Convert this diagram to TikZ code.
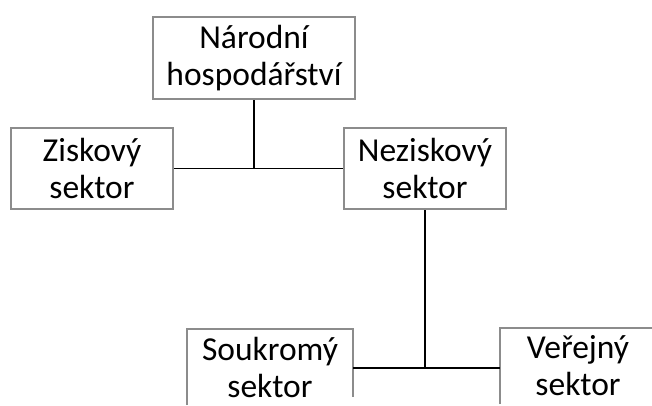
\documentclass[tikz,border=0pt]{standalone}
\usepackage{fontspec}
\setmainfont{Carlito}
\usetikzlibrary{positioning}
\tikzset{
  sektorbox/.style={draw=black!45, line width=2pt, fill=white, align=center,
    inner sep=0pt, minimum height=82pt,
    font=\fontsize{33.5}{37}\selectfont},
  otevreny/.style={sektorbox, draw=none, minimum height=74pt},
  okraj/.style={draw=black!45, line width=2pt},
  spoj/.style={black, line width=1.5pt}
}
\begin{document}
\begin{tikzpicture}[x=1pt,y=-1pt]
\useasboundingbox (0,0) rectangle (652,405);
\clip (0,0) rectangle (652,405);
%top level
\node[sektorbox, minimum width=202pt] (narodni) at (254,58) {Národní\\hospodářství};
\node[sektorbox, minimum width=162pt, minimum height=81pt] (ziskovy) at (92,168.5) {Ziskový\\sektor};
\node[sektorbox, minimum width=162pt, minimum height=81pt] (neziskovy) at (425,168.5) {Neziskový\\sektor};
\draw[spoj] (ziskovy.east) -- (neziskovy.west);
\draw[spoj] (narodni.south) -- (narodni.south |- ziskovy.east);

%second level (boxes run off the bottom edge)
\node[otevreny, minimum width=164pt] (soukromy) at (270,367) {Soukromý\\sektor};
\node[otevreny, minimum width=154pt] (verejny) at (578,366) {Veřejný\\sektor};
\draw[okraj] (soukromy.south west) -- ([yshift=8pt]soukromy.south west) |- (soukromy.north east) -- ([yshift=8pt]soukromy.south east);
\draw[okraj] (verejny.south west) -- ([yshift=8pt]verejny.south west) |- (verejny.north east) -- ([yshift=8pt]verejny.south east);
\coordinate (rozcesti) at (425,368);
\draw[spoj] (neziskovy.south) -- (rozcesti);
\draw[spoj] (soukromy.east |- rozcesti) -- (verejny.west |- rozcesti);
\end{tikzpicture}
\end{document}
